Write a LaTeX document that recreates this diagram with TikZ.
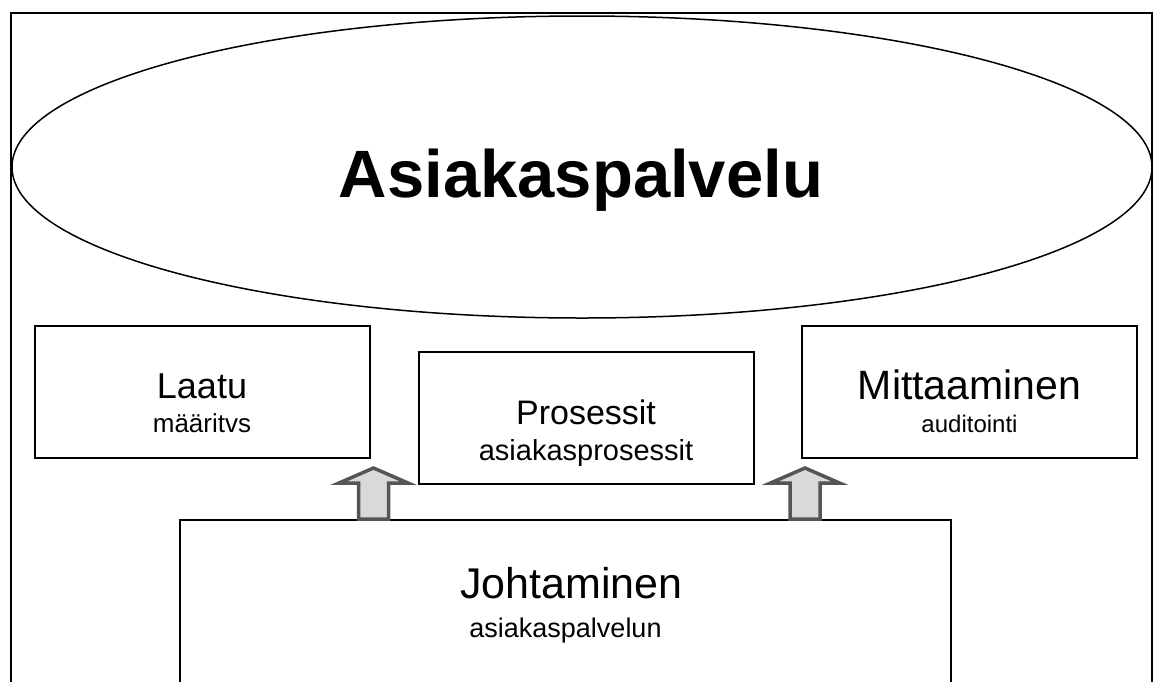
\documentclass[tikz,border=0pt]{standalone}
\usepackage{fontspec}
\setmainfont{Liberation Sans}
\usetikzlibrary{shapes.geometric}

\definecolor{nuolireuna}{HTML}{555555}
\definecolor{nuolitaytto}{HTML}{D9D9D9}

\newcommand{\koko}[1]{\fontsize{#1}{#1}\selectfont}

\tikzset{
  laatikko/.style={draw, line width=2pt, rectangle, inner sep=0pt,
    minimum width=335pt, minimum height=132pt},
  rivi/.style={anchor=base, inner sep=0pt},
  nuoli/.style={draw=nuolireuna, fill=nuolitaytto, line width=3.5pt, line join=miter}
}

% nuoli ylospain, #1 = nuolen kannan keskikohta
\newcommand{\ylosnuoli}[1]{%
  \draw[nuoli] (#1) ++(-15,0) -- ++(0,-36) -- ++(-19.5,0) -- ++(34.5,-15)
    -- ++(34.5,15) -- ++(-19.5,0) -- ++(0,36) -- cycle;}

\begin{document}
\begin{tikzpicture}[x=1pt, y=-1pt]
    \useasboundingbox (0,0) rectangle (1153,681);
    \clip (0,0) rectangle (1153,681);

    % Kehys
    \draw[line width=2pt] (11,13) rectangle (1152,700);

    % Asiakaspalvelu
    \node[draw, ellipse, line width=1.5pt, minimum width=1140pt, minimum height=302pt,
      inner sep=0pt] (asiakas) at (582,167) {};
    \node[rivi, font=\koko{67}\bfseries] (otsikko) at (581,197) {Asiakaspalvelu};

    % Laatikot
    \node[laatikko] (laatu) at (202,392) {};
    \node[laatikko] (prosessit) at (586,418) {};
    \node[laatikko] (mittaaminen) at (969.5,392) {};

    \node[rivi, font=\koko{36}] (laatu1) at (laatu.center |- 0,398) {Laatu};
    \node[rivi, font=\koko{26}] (laatu2) at (laatu.center |- 0,432) {määritvs};

    \node[rivi, font=\koko{34}] (prosessit1) at (prosessit.center |- 0,424) {Prosessit};
    \node[rivi, font=\koko{29}] (prosessit2) at (prosessit.center |- 0,460) {asiakasprosessit};

    \node[rivi, font=\koko{41}] (mittaaminen1) at (mittaaminen.center |- 0,399) {Mittaaminen};
    \node[rivi, font=\koko{24}] (mittaaminen2) at (mittaaminen.center |- 0,432) {auditointi};

    % Johtaminen
    \node[draw, line width=2pt, rectangle, inner sep=0pt, minimum width=771pt,
      minimum height=200pt, anchor=north] (johto) at (565.5,519) {};
    \node[rivi, font=\koko{43}] (johto1) at ([xshift=6pt]johto.center |- 0,598) {Johtaminen};
    \node[rivi, font=\koko{27}] (johto2) at (johto.center |- 0,637) {asiakaspalvelun};

    % Nuolet
    \coordinate (nuoli1) at ([xshift=3pt]laatu.east |- johto.north);
    \coordinate (nuoli2) at ([xshift=4pt]mittaaminen.west |- johto.north);
    \ylosnuoli{nuoli1}
    \ylosnuoli{nuoli2}
\end{tikzpicture}
\end{document}
